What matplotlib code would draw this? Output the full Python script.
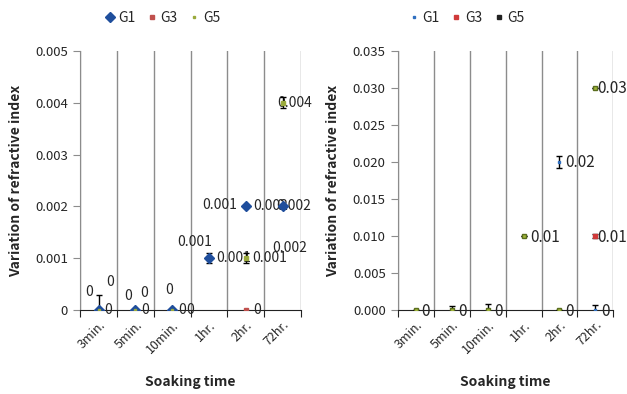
"""Refractive index variation vs soaking time for G1, G3 and G5 (two panels)."""

import numpy as np
import matplotlib
matplotlib.use('Agg')
import matplotlib.pyplot as plt
from matplotlib.lines import Line2D

plt.rcParams['font.family'] = ['Noto Sans CJK KR', 'DejaVu Sans']

categories = ['3min.', '5min.', '10min.', '1hr.', '2hr.', '72hr.']

# left panel
left_g1 = [0, 0, 0, 0.001, 0.002, 0.002]
left_g3 = [0, 0, 0, 0.001, 0, 0.002]
left_g5 = [0, 0, 0, 0.001, 0.001, 0.004]
left_g1_err = [0.0003, 0, 0, 0.0001, 0, 0]
left_g5_err = [0, 0, 0, 0, 0.0001, 0.0001]

# right panel
nan = np.nan
right_g1 = [nan, nan, nan, nan, 0.02, 0]
right_g3 = [nan, nan, nan, nan, nan, 0.01]
right_g5 = [0, 0, 0, 0.01, 0, 0.03]
right_g1_err = [0, 0, 0, 0, 0.0008, 0.0007]
right_g3_err = [0, 0, 0, 0, 0, 0.0003]
right_g5_err = [0, 0.0005, 0.0008, 0, 0, 0]

# label offsets in pixels (dx, dy, ha)
left_g1_off = [(6, 0, 'left'), (6, 0, 'left'), (6, 0, 'left'),
               (7, 0, 'left'), (7, 0, 'left'), (-6, 0, 'left')]
left_g3_off = [(-10, 18, 'center'), (-7, 14, 'center'), (14, 0, 'left'),
               (-14, 16, 'center'), (7, 0, 'left'), (7, -42, 'center')]
left_g5_off = [(11, 28, 'center'), (9, 17, 'center'), (-3, 20, 'center'),
               (11, 53, 'center'), (6, 0, 'left'), (-5, 0, 'left')]

TXT = '#262626'
GRID = '#8c8c8c'


def fmt_val(v, nd):
    s = f'{round(v, nd):.{nd}f}'.rstrip('0').rstrip('.')
    return s if s else '0'


def style_axes(ax, ymax, step, yfmt):
    x = np.arange(len(categories))
    ax.set_xlim(-0.5, len(categories) - 0.5)
    ax.set_ylim(0, ymax)
    for b in np.arange(-0.5, len(categories), 1.0):
        ax.axvline(b, color=GRID, lw=1, zorder=0)
    for s in ['top', 'right']:
        ax.spines[s].set_visible(False)
    ax.spines['left'].set_color(GRID)
    ax.spines['bottom'].set_color('#222222')
    ax.set_xticks(np.arange(-0.5, len(categories), 1.0))
    ax.set_xticklabels([])
    ax.set_xticks(x, minor=True)
    ax.set_xticklabels(categories, minor=True, rotation=45, ha='right',
                       rotation_mode='anchor', fontsize=9, color=TXT)
    ax.tick_params(axis='x', which='major', length=5, color='#222222')
    ax.tick_params(axis='x', which='minor', length=0, pad=6)
    ticks = np.arange(0, ymax + step / 2, step)
    ax.set_yticks(ticks)
    ax.set_yticklabels([yfmt(t) for t in ticks], fontsize=9.5, color=TXT)
    ax.tick_params(axis='y', length=5, color=GRID, pad=4)
    ax.set_xlabel('Soaking time', fontsize=10, fontweight='bold', color=TXT, labelpad=14)
    ax.set_ylabel('Variation of refractive index', fontsize=10, fontweight='bold', color=TXT)


def put_labels(ax, vals, offs, size):
    for i, v in enumerate(vals):
        if np.isnan(v):
            continue
        dx, dy, ha = offs[i]
        ax.annotate(fmt_val(v, 3), (i, v), xytext=(dx, dy), textcoords='offset pixels',
                    ha=ha, va='center', fontsize=size, color=TXT, annotation_clip=False)


fig = plt.figure(figsize=(6.27, 3.94), dpi=100)
ax1 = fig.add_axes([0.128, 0.213, 0.352, 0.658])
ax2 = fig.add_axes([0.635, 0.213, 0.343, 0.658])

x = np.arange(len(categories))

# left panel
style_axes(ax1, 0.005, 0.001, lambda t: '0' if t == 0 else f'{t:.3f}')
c1, c3, c5 = '#1f4e9c', '#c0504d', '#9aaa3c'
ax1.errorbar(x, left_g3, fmt='s', ms=2.5, color=c3, zorder=3)
ax1.errorbar(x, left_g5, yerr=left_g5_err, fmt='s', ms=2.5, color=c5, mec=c5,
             ecolor='black', elinewidth=1, capsize=2, zorder=4)
ax1.errorbar(x, left_g1, yerr=left_g1_err, fmt='D', ms=5, color=c1,
             ecolor='black', elinewidth=1, capsize=2, zorder=5)
ax1.plot(x[:3], left_g5[:3], 's', ms=2, color=c5, zorder=6)
put_labels(ax1, left_g1, left_g1_off, 10)
put_labels(ax1, left_g3, left_g3_off, 10)
put_labels(ax1, left_g5, left_g5_off, 10)
ax1.yaxis.set_label_coords(-0.26, 0.5)

handles1 = [Line2D([], [], marker='D', ls='', ms=5, color=c1),
            Line2D([], [], marker='s', ls='', ms=2.5, color=c3),
            Line2D([], [], marker='s', ls='', ms=2, color=c5)]
fig.legend(handles1, ['G1', 'G3', 'G5'], loc='center', bbox_to_anchor=(0.26, 0.955),
           ncol=3, frameon=False, fontsize=10, handlelength=0.6, handletextpad=0.3,
           columnspacing=0.9, labelcolor=TXT)

# right panel
style_axes(ax2, 0.035, 0.005, lambda t: f'{t:.3f}')
r1, r3, r5 = '#2f6fc0', '#d03a3a', '#5a6e1e'
ax2.errorbar(x, right_g1, yerr=right_g1_err, fmt='s', ms=2, color=r1,
             ecolor='black', elinewidth=1, capsize=2, zorder=4)
ax2.errorbar(x, right_g3, yerr=right_g3_err, fmt='s', ms=3, color=r3,
             ecolor='black', elinewidth=1, capsize=2, zorder=4)
ax2.errorbar(x, right_g5, yerr=right_g5_err, fmt='s', ms=3, color='#a4b83a', mec=r5,
             ecolor='black', elinewidth=1, capsize=2, zorder=4)
right_off = [(5, -1, 'left')] * len(categories)
right_g5_off = [(5, -1, 'left'), (6, -1, 'left'), (6, -1, 'left'),
                (7, -1, 'left'), (6, -1, 'left'), (2, -1, 'left')]
right_g1_off = [(5, -1, 'left')] * 4 + [(6, -1, 'left'), (6, -1, 'left')]
right_g3_off = [(2, -1, 'left')] * len(categories)
put_labels(ax2, right_g1, right_g1_off, 11)
put_labels(ax2, right_g3, right_g3_off, 11)
put_labels(ax2, right_g5, right_g5_off, 11)
ax2.yaxis.set_label_coords(-0.27, 0.5)

handles2 = [Line2D([], [], marker='s', ls='', ms=2, color=r1),
            Line2D([], [], marker='s', ls='', ms=2.5, color=r3),
            Line2D([], [], marker='s', ls='', ms=2.5, color='#222222')]
fig.legend(handles2, ['G1', 'G3', 'G5'], loc='center', bbox_to_anchor=(0.745, 0.955),
           ncol=3, frameon=False, fontsize=10, handlelength=0.6, handletextpad=0.3,
           columnspacing=0.9, labelcolor=TXT)

fig.savefig('out.png', dpi=100)
